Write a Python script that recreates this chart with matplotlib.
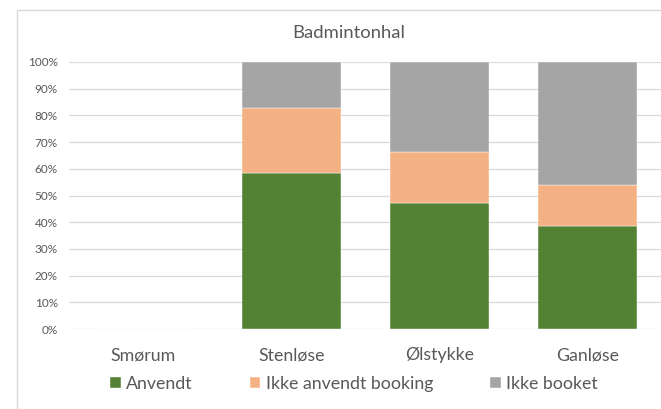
import matplotlib
matplotlib.use('Agg')
import matplotlib.pyplot as plt
from matplotlib.patches import Rectangle
from matplotlib.ticker import PercentFormatter

plt.rcParams['font.family'] = ['Lato', 'DejaVu Sans']

categories = ['Smørum', 'Stenløse', 'Ølstykke', 'Ganløse']
anvendt = [0, 58.5, 47.1, 38.7]
ikke_anvendt = [0, 24.4, 19.1, 15.2]
ikke_booket = [0, 17.1, 33.8, 46.1]
series_names = ['Anvendt', 'Ikke anvendt booking', 'Ikke booket']
colors = ['#548235', '#F4B183', '#A5A5A5']

fig = plt.figure(figsize=(6.61, 4.09), dpi=100)
ax = fig.add_axes([69/661, 1 - 329/409, 593/661, 267/409])

# chart frame like the spreadsheet one
fig.patches.append(Rectangle((17/661, -0.05), 1.2, 1 - 10/409 + 0.05,
                             transform=fig.transFigure, fill=False,
                             edgecolor='#D9D9D9', linewidth=1))

x = range(len(categories))
bottom = [0] * len(categories)
for vals, name, c in zip([anvendt, ikke_anvendt, ikke_booket], series_names, colors):
    ax.bar(x, vals, width=0.667, bottom=bottom, color=c, label=name,
           edgecolor='white', linewidth=0.3, zorder=3)
    bottom = [b + v for b, v in zip(bottom, vals)]

ax.set_xlim(-0.5, 3.5)
ax.set_ylim(0, 100)
ax.set_yticks(range(0, 101, 10))
ax.yaxis.set_major_formatter(PercentFormatter(decimals=0))
ax.set_xticks(list(x))
ax.set_xticklabels(categories)
ax.grid(axis='y', color='#D9D9D9', linewidth=0.9, zorder=0)
for s in ax.spines.values():
    s.set_visible(False)
ax.tick_params(axis='y', length=0, labelsize=8.5, labelcolor='#595959', pad=8)
ax.tick_params(axis='x', length=0, labelsize=12.8, labelcolor='#595959', pad=13)

fig.text(349/661, 1 - 33/409, 'Badmintonhal', ha='center', va='center',
         fontsize=13.3, color='#595959')

fig.legend(loc='center', bbox_to_anchor=(354/661, 1 - 384/409), ncol=3,
           frameon=False, fontsize=12.8, labelcolor='#595959',
           handlelength=0.6, handleheight=0.6, handletextpad=0.3,
           columnspacing=3.2)

fig.savefig('out.png', dpi=100)
